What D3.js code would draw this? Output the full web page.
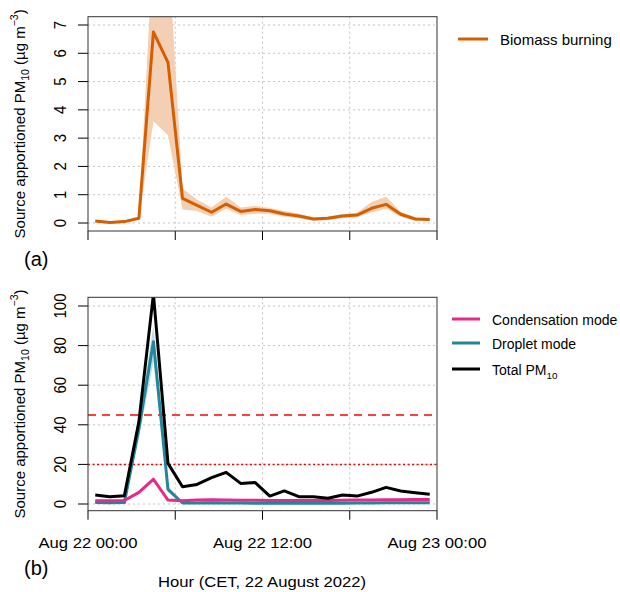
<!DOCTYPE html>
<html>
<head>
<meta charset="utf-8">
<script src="https://cdn.jsdelivr.net/npm/d3@7"></script>
<style>
  body { margin: 0; background: #fff; }
  svg { display: block; font-family: "Liberation Sans", Arial, sans-serif; }
</style>
</head>
<body>
<div id="chart"></div>
<script>
// hourly values, plotted at the half hour
const hours = [0.5, 1.5, 2.5, 3.5, 4.5, 5.5, 6.5, 7.5, 8.5, 9.5, 10.5, 11.5,
               12.5, 13.5, 14.5, 15.5, 16.5, 17.5, 18.5, 19.5, 20.5, 21.5, 22.5, 23.5];

// panel (a): biomass burning with uncertainty band
const biomass   = [0.07, 0.02, 0.05, 0.17, 6.75, 5.68, 0.87, 0.62, 0.38, 0.67, 0.41, 0.48,
                   0.43, 0.32, 0.25, 0.14, 0.17, 0.25, 0.28, 0.52, 0.66, 0.31, 0.14, 0.12];
const biomassLo = [0.03, -0.02, 0.01, 0.12, 3.6, 3.1, 0.48, 0.42, 0.22, 0.5, 0.28, 0.33,
                   0.33, 0.22, 0.17, 0.08, 0.11, 0.18, 0.2, 0.38, 0.5, 0.22, 0.08, 0.07];
const biomassHi = [0.11, 0.06, 0.09, 0.22, 10, 10, 1.22, 0.82, 0.55, 0.93, 0.55, 0.6,
                   0.53, 0.42, 0.33, 0.2, 0.23, 0.32, 0.36, 0.74, 0.93, 0.4, 0.2, 0.17];

// panel (b): modes and total PM10
const condensation   = [1.7, 1.7, 1.8, 5.9, 12.5, 2.0, 1.7, 2.0, 2.2, 2.0, 1.9, 1.9,
                        1.8, 1.8, 1.8, 1.8, 1.8, 1.9, 2.0, 2.0, 2.1, 2.2, 2.3, 2.3];
const condensationLo = [1.3, 1.3, 1.4, 5.2, 11.3, 1.6, 1.3, 1.5, 1.7, 1.6, 1.5, 1.5,
                        1.4, 1.4, 1.4, 1.4, 1.4, 1.5, 1.6, 1.6, 1.7, 1.8, 1.9, 1.9];
const condensationHi = [2.1, 2.1, 2.2, 6.6, 13.7, 2.4, 2.1, 2.5, 2.7, 2.4, 2.3, 2.3,
                        2.2, 2.2, 2.2, 2.2, 2.2, 2.3, 2.4, 2.4, 2.5, 2.6, 2.7, 2.7];
const droplet   = [0.7, 0.6, 0.7, 38, 82, 7.4, 0.5, 0.5, 0.6, 0.5, 0.5, 0.4,
                   0.4, 0.4, 0.4, 0.4, 0.4, 0.4, 0.5, 0.5, 0.6, 0.6, 0.6, 0.6];
const dropletLo = [0.4, 0.3, 0.4, 33, 72, 6, 0.2, 0.2, 0.3, 0.2, 0.2, 0.1,
                   0.1, 0.1, 0.1, 0.1, 0.1, 0.1, 0.2, 0.2, 0.3, 0.3, 0.3, 0.3];
const dropletHi = [1.0, 0.9, 1.0, 43, 90, 9, 0.8, 0.8, 0.9, 0.8, 0.8, 0.7,
                   0.7, 0.7, 0.7, 0.7, 0.7, 0.7, 0.8, 0.8, 0.9, 0.9, 0.9, 0.9];
const total = [4.5, 3.7, 4.2, 41.6, 106, 20.5, 8.7, 9.9, 13.3, 16, 10.4, 10.8,
               4.0, 6.6, 3.7, 3.7, 2.9, 4.5, 4.0, 5.9, 8.4, 6.6, 5.7, 4.9];

// limit values (dashed = 45, dotted = 20)
const limitDashed = 45;
const limitDotted = 20;

const xTicks = [0, 6, 12, 18, 24];
const xTickLabels = ["Aug 22 00:00", "", "Aug 22 12:00", "", "Aug 23 00:00"];
const yTicksA = [0, 1, 2, 3, 4, 5, 6, 7];
const yTicksB = [0, 20, 40, 60, 80, 100];

const width = 620, height = 592;
const orange = "#D55E00", pink = "#E7298A", teal = "#21879C";

const svg = d3.select("#chart").append("svg")
    .attr("width", width)
    .attr("height", height);

const x = d3.scaleLinear().domain([0, 24]).range([88, 437]);

// draw one panel frame: grid, ticks, box; returns clipped group
function panel(id, y, yTicks, top, bottom) {
  const g = svg.append("g");
  const gridColor = "#c4c4c4";

  g.selectAll("line.hgrid").data(yTicks).join("line")
      .attr("x1", 88).attr("x2", 437)
      .attr("y1", d => y(d)).attr("y2", d => y(d))
      .attr("stroke", gridColor).attr("stroke-dasharray", "2,3");
  g.selectAll("line.vgrid").data(xTicks.slice(1, -1)).join("line")
      .attr("x1", d => x(d)).attr("x2", d => x(d))
      .attr("y1", top).attr("y2", bottom)
      .attr("stroke", gridColor).attr("stroke-dasharray", "2,3");

  // y axis with rotated labels
  g.selectAll("line.ytick").data(yTicks).join("line")
      .attr("x1", 78).attr("x2", 88)
      .attr("y1", d => y(d)).attr("y2", d => y(d))
      .attr("stroke", "#000");
  g.selectAll("text.ytick").data(yTicks).join("text")
      .attr("transform", d => `translate(66,${y(d)}) rotate(-90) scale(1,1.15)`)
      .attr("text-anchor", "middle")
      .attr("font-size", 15)
      .text(d => d);

  // x ticks
  g.selectAll("line.xtick").data(xTicks).join("line")
      .attr("x1", d => x(d)).attr("x2", d => x(d))
      .attr("y1", bottom).attr("y2", bottom + 9)
      .attr("stroke", "#000");

  svg.append("clipPath").attr("id", id)
    .append("rect").attr("x", 88).attr("y", top)
      .attr("width", 349).attr("height", bottom - top);

  const plot = svg.append("g").attr("clip-path", `url(#${id})`);

  // y title
  const t = svg.append("text")
      .attr("transform", `translate(25,${(top + bottom) / 2}) rotate(-90)`)
      .attr("text-anchor", "middle")
      .attr("font-size", 15);
  t.append("tspan").text("Source apportioned PM");
  t.append("tspan").attr("font-size", 10.5).attr("dy", 4).text("10");
  t.append("tspan").attr("dy", -4).text(" (µg m");
  t.append("tspan").attr("font-size", 10.5).attr("dy", -7).text("−3");
  t.append("tspan").attr("dy", 7).text(")");

  return { plot, frame: () => svg.append("rect")
      .attr("x", 88).attr("y", top).attr("width", 349).attr("height", bottom - top)
      .attr("fill", "none").attr("stroke", "#333") };
}

function band(g, lo, hi, y, fill) {
  g.append("path")
      .datum(hours.map((h, i) => [h, lo[i], hi[i]]))
      .attr("fill", fill)
      .attr("d", d3.area().x(d => x(d[0])).y0(d => y(d[1])).y1(d => y(d[2])));
}

function line(g, vals, y, color, w) {
  g.append("path")
      .datum(hours.map((h, i) => [h, vals[i]]))
      .attr("fill", "none")
      .attr("stroke", color)
      .attr("stroke-width", w)
      .attr("stroke-linejoin", "round")
      .attr("d", d3.line().x(d => x(d[0])).y(d => y(d[1])));
}

// ---- panel (a)
const yA = d3.scaleLinear().domain([0, 7]).range([223, 25]);
const pa = panel("clipA", yA, yTicksA, 16.7, 231);
band(pa.plot, biomassLo, biomassHi, yA, "#F3CFB3");
line(pa.plot, biomass, yA, orange, 3);
pa.frame();

// ---- panel (b)
const yB = d3.scaleLinear().domain([0, 100]).range([504, 306]);
const pb = panel("clipB", yB, yTicksB, 297.3, 510.7);
pb.plot.append("line")
    .attr("x1", 88).attr("x2", 437)
    .attr("y1", yB(limitDashed)).attr("y2", yB(limitDashed))
    .attr("stroke", "#FF0000").attr("stroke-width", 1.5).attr("stroke-dasharray", "8,6");
pb.plot.append("line")
    .attr("x1", 88).attr("x2", 437)
    .attr("y1", yB(limitDotted)).attr("y2", yB(limitDotted))
    .attr("stroke", "#FF0000").attr("stroke-width", 1.5).attr("stroke-dasharray", "2,2.5");
band(pb.plot, dropletLo, dropletHi, yB, "#BCDDE3");
band(pb.plot, condensationLo, condensationHi, yB, "#F6C2DC");
line(pb.plot, droplet, yB, teal, 3);
line(pb.plot, condensation, yB, pink, 3);
line(pb.plot, total, yB, "#000", 3);
pb.frame();

// x tick labels and title
svg.selectAll("text.xlab").data(xTicks.map((d, i) => [d, xTickLabels[i]]).filter(d => d[1]))
  .join("text")
    .attr("x", d => x(d[0])).attr("y", 548)
    .attr("text-anchor", "middle")
    .attr("font-size", 15.5)
    .attr("textLength", 99)
    .attr("lengthAdjust", "spacingAndGlyphs")
    .text(d => d[1]);
svg.append("text")
    .attr("x", 262).attr("y", 587)
    .attr("text-anchor", "middle")
    .attr("font-size", 15.5)
    .attr("textLength", 208)
    .attr("lengthAdjust", "spacingAndGlyphs")
    .text("Hour (CET, 22 August 2022)");

// panel tags
svg.append("text").attr("x", 24).attr("y", 266).attr("font-size", 20).text("(a)");
svg.append("text").attr("x", 24).attr("y", 575).attr("font-size", 20).text("(b)");

// legends
const legendA = [{ label: "Biomass burning", color: orange, y: 39 }];
const legendB = [
  { label: "Condensation mode", color: pink, y: 319 },
  { label: "Droplet mode", color: teal, y: 343 },
  { label: "Total PM", sub: "10", color: "#000", y: 369 }
];

function legend(items, x0, x1, tx, size) {
  items.forEach(d => {
    svg.append("line")
        .attr("x1", x0).attr("x2", x1).attr("y1", d.y).attr("y2", d.y)
        .attr("stroke", d.color).attr("stroke-width", 3);
    const t = svg.append("text").attr("x", tx).attr("y", d.y + 5.5).attr("font-size", size);
    t.append("tspan").text(d.label);
    if (d.sub) t.append("tspan").attr("font-size", size * 0.7).attr("dy", 4).text(d.sub);
  });
}
legend(legendA, 458, 488, 500, 15);
legend(legendB, 452, 480, 492, 14);
</script>
</body>
</html>
